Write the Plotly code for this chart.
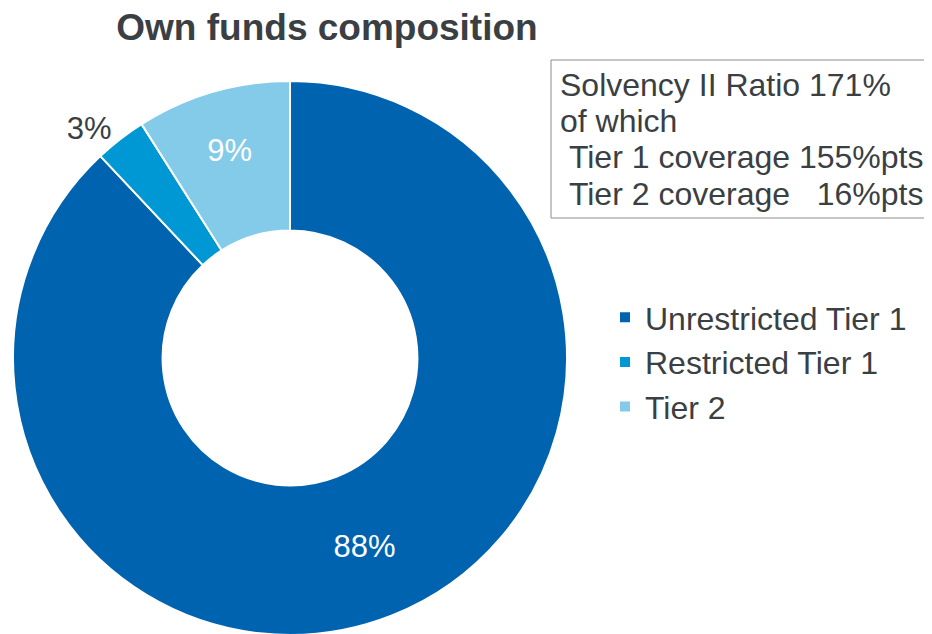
import plotly.graph_objects as go

labels = ["Unrestricted Tier 1", "Restricted Tier 1", "Tier 2"]
values = [88, 3, 9]
colors = ["#0063AF", "#0098D4", "#84CBEA"]
label_colors = ["#FFFFFF", "#3A3F44", "#FFFFFF"]
label_positions = ["inside", "outside", "inside"]

box_lines = [
    "Solvency II Ratio 171%",
    "of which",
    "\u00a0Tier 1 coverage 155%pts",
    "\u00a0Tier 2 coverage \u00a0\u00a016%pts",
]

W, H = 932, 634
OFF = 8  # page body margin: figure is drawn 8px right/down of the window origin


def px_x(x):
    return (x - OFF) / W


def px_y(y):
    return 1 - (y - OFF) / H


cx, cy, r = 290, 358, 277  # window pixel coordinates of the donut

fig = go.Figure(go.Pie(
    labels=labels,
    values=values,
    sort=False,
    direction="clockwise",
    rotation=0,
    hole=0.46,
    marker=dict(colors=colors, line=dict(color="#FFFFFF", width=2)),
    texttemplate="%{percent:.0%}",
    textposition=label_positions,
    insidetextorientation="horizontal",
    textfont=dict(family="Liberation Sans, Arial, sans-serif", size=31, color=label_colors),
    domain=dict(x=[px_x(cx - r), px_x(cx + r)], y=[px_y(cy + r), px_y(cy - r)]),
    showlegend=True,
))

line_y = [85, 121, 157, 194]
annotations = [
    dict(
        text=t,
        xref="paper", yref="paper",
        x=px_x(558), xanchor="left",
        y=px_y(yy), yanchor="middle",
        align="left", showarrow=False,
        font=dict(size=32, color="#3A3F44"),
    )
    for t, yy in zip(box_lines, line_y)
]

fig.update_layout(
    width=W, height=H,
    margin=dict(l=0, r=0, t=0, b=0),
    paper_bgcolor="white",
    plot_bgcolor="white",
    font=dict(family="Liberation Sans, Arial, sans-serif", color="#3A3F44"),
    title=dict(
        text="<b>Own funds composition</b>",
        font=dict(size=37, color="#3A3F44"),
        x=px_x(327), xanchor="center", xref="paper",
        y=px_y(27), yanchor="middle", yref="container",
    ),
    legend=dict(
        x=px_x(605), xanchor="left",
        y=px_y(290), yanchor="top",
        font=dict(size=32, color="#3A3F44"),
        bgcolor="rgba(0,0,0,0)",
    ),
    shapes=[dict(
        type="rect", xref="paper", yref="paper",
        x0=px_x(551), x1=px_x(945), y0=px_y(218), y1=px_y(60),
        line=dict(color="#8C8C8C", width=1),
        fillcolor="rgba(0,0,0,0)",
    )],
    annotations=annotations,
)

fig.write_html("out.html")
